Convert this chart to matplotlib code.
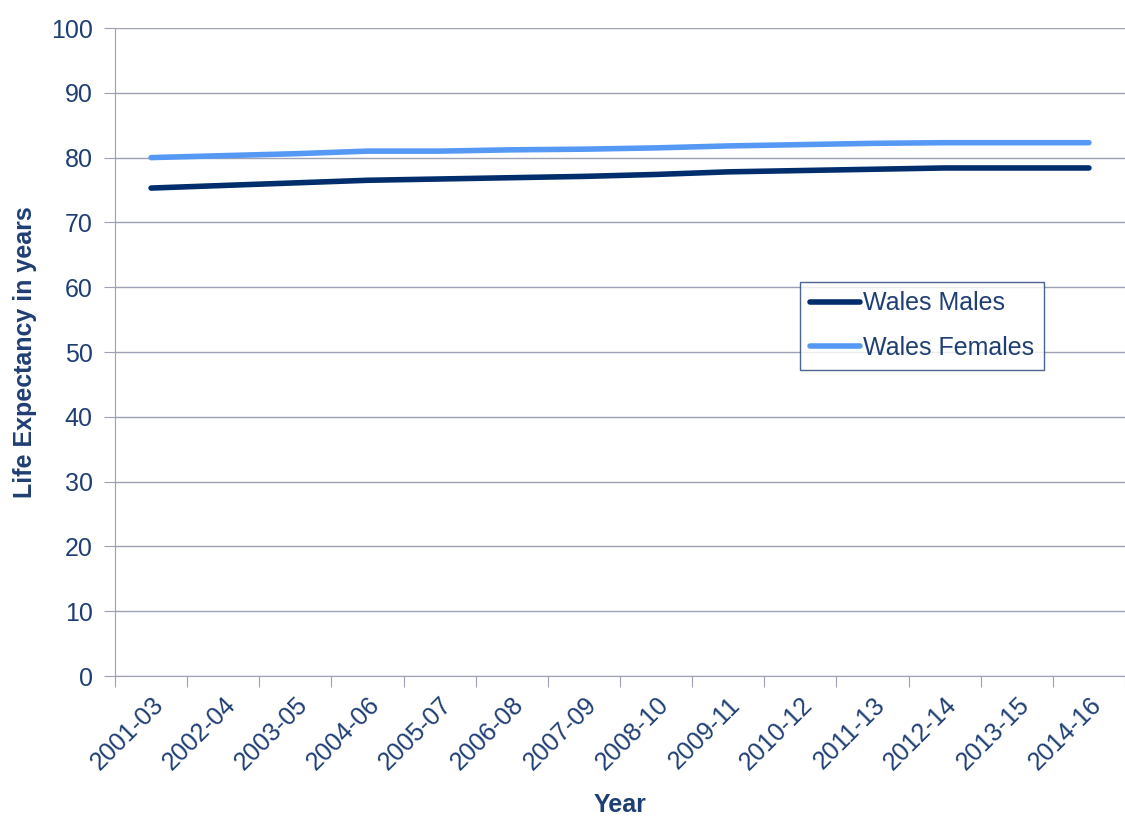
import matplotlib.pyplot as plt
import numpy as np

plt.rcParams['font.family'] = ['Liberation Sans', 'DejaVu Sans']

years = ['2001-03', '2002-04', '2003-05', '2004-06', '2005-07', '2006-08', '2007-09',
         '2008-10', '2009-11', '2010-12', '2011-13', '2012-14', '2013-15', '2014-16']
males = [75.3, 75.7, 76.1, 76.5, 76.7, 76.9, 77.1, 77.4, 77.8, 78.0, 78.2, 78.4, 78.4, 78.4]
females = [80.0, 80.3, 80.6, 81.0, 81.0, 81.2, 81.3, 81.5, 81.8, 82.0, 82.2, 82.3, 82.3, 82.3]

navy = '#1F3F74'
grid_col = '#9EA0B4'
fs = 18

fig = plt.figure(figsize=(11.25, 8.18), dpi=100)
ax = fig.add_axes([115 / 1125, 1 - 676 / 818, 1010 / 1125, 648 / 818])

x = np.arange(len(years))
ax.plot(x, males, color='#002E6C', lw=4, solid_capstyle='round', label='Wales Males')
ax.plot(x, females, color='#5599F5', lw=4, solid_capstyle='round', label='Wales Females')

ax.set_xlim(-0.5, len(years) - 0.5)
ax.set_ylim(0, 100)
ax.set_yticks(range(0, 101, 10))
ax.yaxis.grid(True, color=grid_col, lw=1)
ax.set_axisbelow(True)

# category boundaries get the tick marks, centres get the labels
ax.set_xticks(np.arange(-0.5, len(years), 1))
ax.set_xticklabels([])
ax.set_xticks(x, minor=True)
ax.set_xticklabels(years, minor=True, rotation=45, ha='right', va='top',
                   rotation_mode='anchor', fontsize=fs, color=navy)
ax.tick_params(axis='x', which='major', length=8, color=grid_col)
ax.tick_params(axis='x', which='minor', length=0, pad=12)
ax.tick_params(axis='y', length=8, color=grid_col, labelsize=fs, labelcolor=navy, pad=8)

for s in ['top', 'right']:
    ax.spines[s].set_visible(False)
for s in ['left', 'bottom']:
    ax.spines[s].set_color(grid_col)

ax.set_ylabel('Life Expectancy in years', fontsize=fs, fontweight='bold', color=navy, labelpad=10)
ax.set_xlabel('Year', fontsize=fs, fontweight='bold', color=navy, labelpad=13)

leg = ax.legend(loc='upper left', bbox_to_anchor=(685 / 1010, (676 - 282) / 648),
                fontsize=fs, frameon=True, fancybox=False, edgecolor=navy,
                handlelength=2.0, handletextpad=0.15, borderpad=0.38, labelspacing=0.82,
                borderaxespad=0)
leg.get_frame().set_linewidth(1)
for t in leg.get_texts():
    t.set_color(navy)

fig.savefig('out.png', dpi=100)
